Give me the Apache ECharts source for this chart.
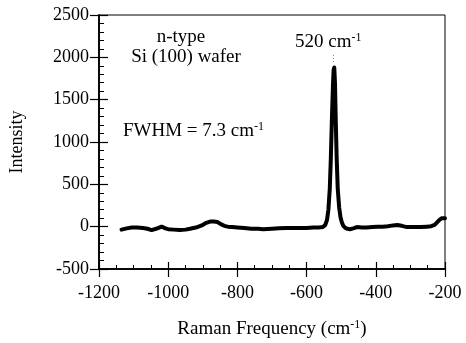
<!DOCTYPE html>
<html>
<head>
<meta charset="UTF-8">
<script src="https://cdn.jsdelivr.net/npm/echarts@6/dist/echarts.min.js"></script>
<style>
  html, body { margin: 0; padding: 0; background: #fff; }
  #chart { width: 466px; height: 343px; }
</style>
</head>
<body>
<div id="chart"></div>
<script>
var ramanShift = [-1135, -1120, -1105, -1090, -1073, -1060, -1048, -1035, -1019, -1008, -1000, -985,
  -966, -950, -937, -920, -903, -890, -879, -868, -858, -848, -838, -828, -815, -800, -780, -760,
  -740, -726, -700, -680, -658, -640, -620, -600, -581, -565, -553, -546, -541, -537, -533, -530,
  -527, -524, -522, -520, -518, -516, -513, -510, -506, -502, -498, -494, -488, -482, -475, -465,
  -455, -440, -426, -410, -395, -380, -365, -350, -338, -325, -310, -300, -285, -270, -253, -240,
  -230, -223, -216, -209, -200];
var intensity = [-35, -20, -10, -10, -15, -25, -40, -25, 0, -20, -30, -35,
  -40, -35, -25, -10, 15, 45, 60, 60, 55, 30, 10, 0, -5, -10, -15, -25,
  -25, -30, -25, -20, -15, -15, -15, -15, -10, -10, -5, 20, 80, 200, 450, 800,
  1250, 1650, 1850, 1880, 1700, 1300, 800, 450, 230, 110, 50, 10, -15, -25, -30, -20,
  -5, -10, -10, -5, 0, 0, 5, 15, 20, 10, -5, -5, -5, -5, 0, 5,
  20, 50, 80, 100, 100];

var xTicks = { min: -1200, max: -200, interval: 200 };
var yTicks = { min: -500, max: 2500, interval: 500 };

var points = ramanShift.map(function (x, i) { return [x, intensity[i]]; });

var font = 'Liberation Serif';
var ink = '#000';
var chart = echarts.init(document.getElementById('chart'));

function axisPair(pos, ticks, minorSplit, inLen, outLen, minorLen, extra) {
  var base = {
    type: 'value',
    position: pos,
    min: ticks.min, max: ticks.max, interval: ticks.interval,
    axisLine: { show: true, onZero: false, lineStyle: { color: ink, width: 1.5 } },
    splitLine: { show: false },
    minorSplitLine: { show: false }
  };
  // first copy: ticks pointing inward, minor ticks, no labels
  var inner = Object.assign({}, base, {
    axisLabel: { show: false },
    axisTick: { show: true, inside: true, length: inLen, lineStyle: { color: ink, width: 1.2 } },
    minorTick: { show: true, splitNumber: minorSplit, length: minorLen, lineStyle: { color: ink, width: 1 } }
  });
  // second copy: ticks pointing outward, labels and title
  var outer = Object.assign({}, base, {
    axisTick: { show: true, inside: false, length: outLen, lineStyle: { color: ink, width: 1.2 } },
    minorTick: { show: false }
  }, extra);
  return [inner, outer];
}

var supRich = {
  sup: { fontFamily: font, fontSize: 12, color: ink, verticalAlign: 'top', padding: [0, 0, 9, 0] }
};
var supRichG = {
  sup: { fontFamily: font, fontSize: 12, fill: ink, verticalAlign: 'top', padding: [0, 0, 9, 0] }
};
function plain(v) { return String(v); }

function note(x, y, text, align) {
  return { type: 'text', x: x, y: y, style: {
    text: text, fill: ink, font: '19px "Liberation Serif"',
    align: align, verticalAlign: 'middle', rich: supRichG } };
}

var option = {
  backgroundColor: '#fff',
  animation: false,
  grid: { left: 99, right: 21, top: 15, bottom: 74, show: true, borderColor: ink, borderWidth: 1,
    backgroundColor: 'transparent', outerBoundsMode: 'none', containLabel: false },
  xAxis: axisPair('bottom', xTicks, 4, 7, 8, 4, {
    axisLabel: { show: true, margin: 15, color: ink, fontFamily: font, fontSize: 18, formatter: plain },
    name: 'Raman Frequency (cm{sup|-1})',
    nameLocation: 'middle',
    nameGap: 50,
    nameTextStyle: { color: ink, fontFamily: font, fontSize: 19, rich: supRich }
  }),
  yAxis: axisPair('left', yTicks, 5, 9, 9, 5, {
    axisLabel: { show: true, margin: 10, color: ink, fontFamily: font, fontSize: 18, formatter: plain },
    name: 'Intensity',
    nameLocation: 'middle',
    nameGap: 73,
    nameTextStyle: { color: ink, fontFamily: font, fontSize: 18 }
  }),
  graphic: [
    note(181, 37, 'n-type', 'center'),
    note(186, 57, 'Si (100) wafer', 'center'),
    note(123, 131, 'FWHM = 7.3 cm{sup|-1}', 'left'),
    note(295, 42, '520 cm{sup|-1}', 'left'),
    // faint dotted leader between the peak label and the peak
    { type: 'line', shape: { x1: 333.5, y1: 55, x2: 333.5, y2: 62 },
      style: { stroke: '#888', lineWidth: 1, lineDash: [1, 2] } }
  ],
  series: [{
    type: 'line',
    xAxisIndex: 0,
    yAxisIndex: 0,
    data: points,
    showSymbol: false,
    symbol: 'none',
    lineStyle: { color: ink, width: 4, join: 'round', cap: 'round' },
    silent: true
  }]
};

chart.setOption(option);
</script>
</body>
</html>
